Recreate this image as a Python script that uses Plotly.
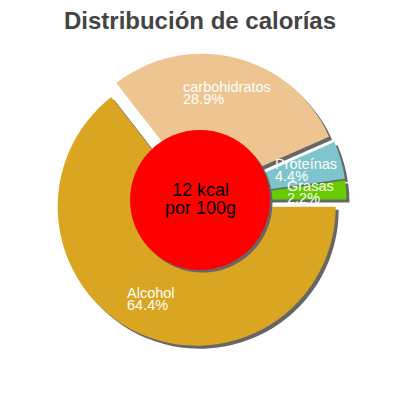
import math
import plotly.graph_objects as go

# slice data, clockwise from 3 o'clock
labels = ["Alcohol", "carbohidratos", "Proteínas", "Grasas"]
values = [64.4, 28.9, 4.4, 2.2]
colors = ["#DAA520", "#EEC591", "#7EC4CC", "#66CC00"]
center_lines = ["12 kcal", "por 100g"]
title = "Distribución de calorías"

# page body has an 8px margin, so the figure is a bit smaller than the window
W = H = 384
pull = 0.054
shadow = 3  # px offset of the gray shadow
half = 146.5  # half of pie box in px (radius * (1 + pull))
cx, cy = 192, 192


def dom(ox, oy):
    x = [(cx + ox - half) / W, (cx + ox + half) / W]
    y = [1 - (cy + oy + half) / H, 1 - (cy + oy - half) / H]
    return dict(x=x, y=y)


fig = go.Figure()

# shadow pie
fig.add_trace(go.Pie(
    values=values, labels=labels, sort=False, direction="clockwise",
    rotation=90, pull=pull, textinfo="none", hoverinfo="skip",
    marker=dict(colors=["#666666"] * len(values), line=dict(width=0)),
    domain=dom(shadow, shadow), showlegend=False,
))
# main pie
fig.add_trace(go.Pie(
    values=values, labels=labels, sort=False, direction="clockwise",
    rotation=90, pull=pull, textinfo="none", hoverinfo="label+percent",
    marker=dict(colors=colors, line=dict(width=0)),
    domain=dom(0, 0), showlegend=False,
))

# red centre disc with its shadow
r_disc = 70
for off, col in [(2.5, "#666666"), (0, "#FF0000")]:
    fig.add_shape(type="circle", xref="paper", yref="paper", layer="above",
                  x0=(cx + off - r_disc) / W, x1=(cx + off + r_disc) / W,
                  y0=1 - (cy + off + r_disc) / H, y1=1 - (cy + off - r_disc) / H,
                  fillcolor=col, line=dict(width=0))

# slice labels along the bisector of each slice
total = sum(values)
acc = 0
r_lab = 110.5
for name, v in zip(labels, values):
    theta = math.radians((acc + v / 2) / total * 360)
    acc += v
    px_ = cx + r_lab * math.cos(theta)
    py_ = cy + r_lab * math.sin(theta)
    fig.add_annotation(
        x=px_ / W, y=1 - py_ / H, xref="paper", yref="paper",
        xanchor="center", yanchor="middle", align="left", showarrow=False,
        text=f"<span style='font-size:14.5px'>{name}</span><br>"
             f"<span style='font-size:14.5px'>{v}%</span>",
        font=dict(family="Liberation Sans, Arial", size=9.3, color="white"),
    )

fig.add_annotation(
    x=0.5, y=1 - 191 / H, xref="paper", yref="paper",
    xanchor="center", yanchor="middle", showarrow=False,
    text="<br>".join(f"<span style='font-size:18px'>{t}</span>" for t in center_lines),
    font=dict(family="Liberation Sans, Arial", size=14.2, color="black"),
)

fig.update_layout(
    width=W, height=H,
    margin=dict(l=0, r=0, t=0, b=0),
    paper_bgcolor="white", plot_bgcolor="white",
    title=dict(text=f"<b>{title}</b>", x=0.5, xanchor="center",
               y=1 - 13 / H, yref="container", yanchor="middle",
               font=dict(family="Liberation Sans, Arial", size=24, color="#444444")),
)

fig.write_html("out.html")
